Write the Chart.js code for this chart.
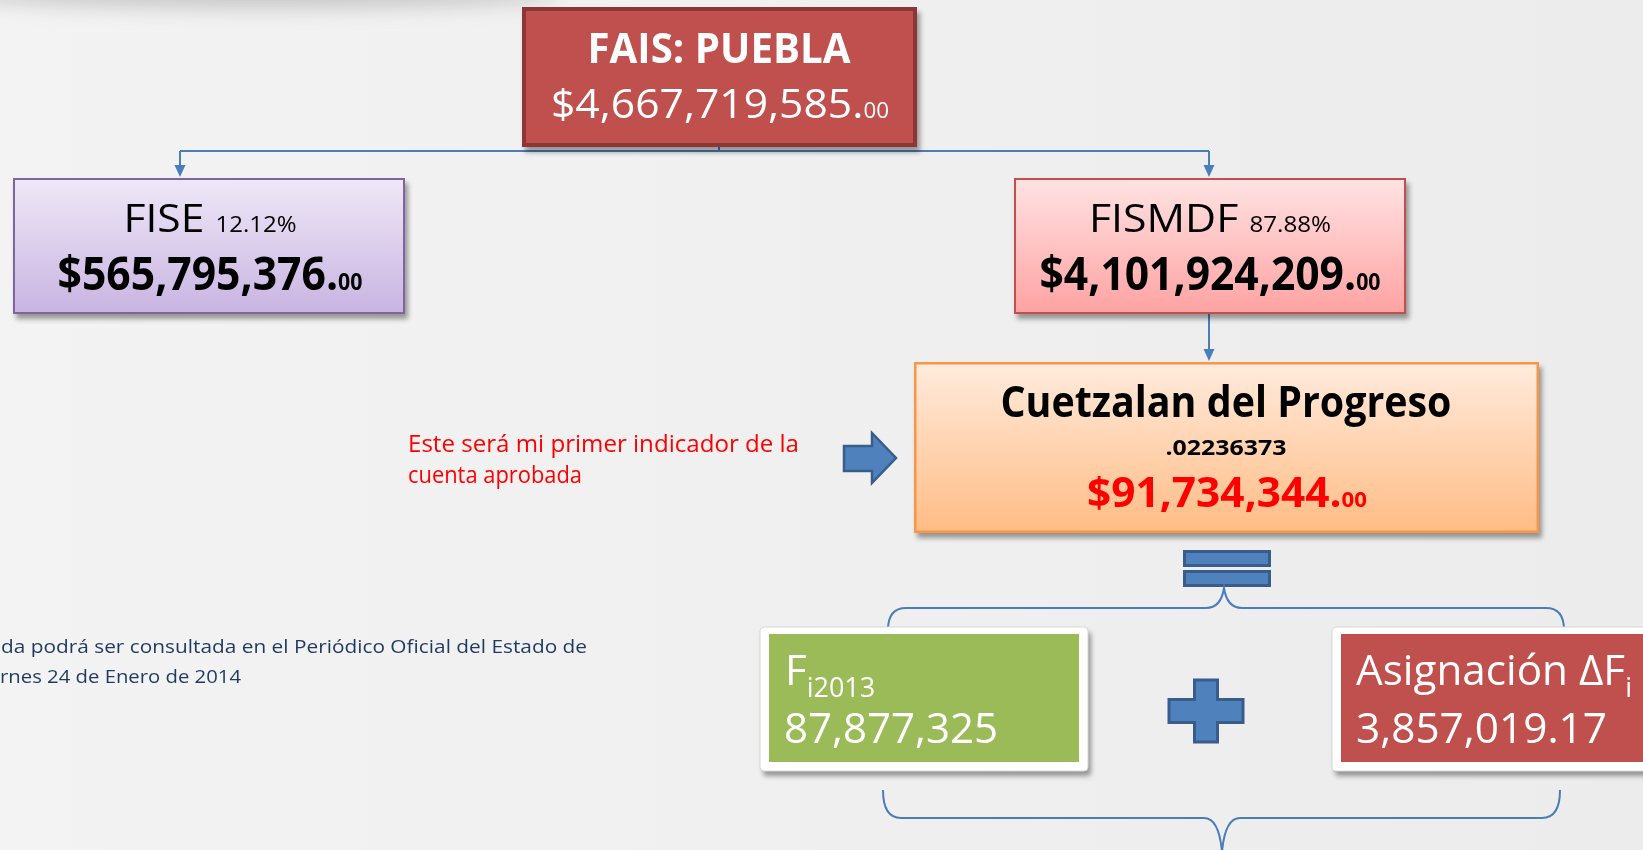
<!DOCTYPE html>
<html>
<head>
<meta charset="utf-8">
<script src="https://cdn.jsdelivr.net/npm/chart.js@4.4.1/dist/chart.umd.min.js"></script>
<style>
  html, body { margin: 0; padding: 0; background: #f1f1f1; overflow: hidden; }
  #wrap { width: 1643px; height: 850px; position: relative; }
</style>
</head>
<body>
<div id="wrap"><canvas id="diagram"></canvas></div>
<script>
// values
const nodeNames = ['FAIS: PUEBLA', 'FISE', 'FISMDF', 'Cuetzalan del Progreso', 'F', 'Asignación ΔF'];
const nodeSubs = ['', '', '', '', 'i2013', 'i'];
const nodeAmounts = [4667719585, 565795376, 4101924209, 91734344, 87877325, 3857019.17];
const sharePct = [null, 12.12, 87.88];
const municipalCoef = 0.02236373;
const noteLines = ['Este será mi primer indicador de la', 'cuenta aprobada'];
const footLines = ['da podrá ser consultada en el Periódico Oficial del Estado de', 'rnes 24 de Enero de 2014'];

// layout (in scale units, which map 1:1 to the 1643x850 page)
const W = 1643, H = 850;
const layout = {
  fais:   { x0: 522, y0: 7,   x1: 917,  y1: 147 },
  fise:   { x0: 13,  y0: 178, x1: 405,  y1: 314 },
  fismdf: { x0: 1014, y0: 178, x1: 1406, y1: 314 },
  cuetz:  { x0: 914, y0: 362, x1: 1539, y1: 533 },
  green:  { x0: 760, y0: 627, x1: 1088, y1: 771 },
  red:    { x0: 1332, y0: 627, x1: 1680, y1: 771 }
};
const FONT = '"Open Sans", "Noto Sans", sans-serif';
const LINE = '#4a7ebb';

function money(v) {
  const whole = Math.floor(v);
  const cents = Math.round((v - whole) * 100);
  return ['$' + whole.toLocaleString('en-US') + '.', String(cents).padStart(2, '0')];
}

function drawRuns(ctx, runs, x, y, align, width, color) {
  let total = 0;
  runs.forEach(r => {
    ctx.font = (r.bold ? 'bold ' : '') + r.size + 'px ' + FONT;
    r.w = ctx.measureText(r.t).width;
    total += r.w;
  });
  const sx = width ? width / total : 1;
  const shown = total * sx;
  const start = align === 'center' ? x - shown / 2 : x;
  ctx.save();
  ctx.translate(start, y);
  ctx.scale(sx, 1);
  ctx.fillStyle = color;
  ctx.textAlign = 'left';
  ctx.textBaseline = 'alphabetic';
  let cx = 0;
  runs.forEach(r => {
    ctx.font = (r.bold ? 'bold ' : '') + r.size + 'px ' + FONT;
    ctx.fillText(r.t, cx, r.dy || 0);
    cx += r.w;
  });
  ctx.restore();
}

const diagramPlugin = {
  id: 'diagram',
  beforeDraw(chart) {
    const ctx = chart.ctx;
    const bg = ctx.createLinearGradient(0, 0, W, 0);
    bg.addColorStop(0, '#f3f3f3');
    bg.addColorStop(1, '#ececec');
    ctx.save();
    ctx.fillStyle = bg;
    ctx.fillRect(0, 0, W, H);
    // soft grey smudge top-left
    ctx.filter = 'blur(10px)';
    ctx.fillStyle = 'rgba(120,120,120,0.35)';
    ctx.beginPath();
    ctx.ellipse(260, -6, 300, 14, 0, 0, Math.PI * 2);
    ctx.fill();
    ctx.restore();
  },
  afterDraw(chart) {
    const ctx = chart.ctx;
    const sx = v => chart.scales.x.getPixelForValue(v);
    const sy = v => chart.scales.y.getPixelForValue(v);
    const rect = r => ({ x: sx(r.x0), y: sy(r.y0), w: sx(r.x1) - sx(r.x0), h: sy(r.y1) - sy(r.y0) });

    function shadowOn() {
      ctx.shadowColor = 'rgba(0,0,0,0.38)';
      ctx.shadowBlur = 5;
      ctx.shadowOffsetX = 3;
      ctx.shadowOffsetY = 5;
    }
    function shadowOff() {
      ctx.shadowColor = 'transparent';
      ctx.shadowBlur = 0; ctx.shadowOffsetX = 0; ctx.shadowOffsetY = 0;
    }
    function gradBox(r, top, bottom, stroke, lw) {
      const b = rect(r);
      const g = ctx.createLinearGradient(0, b.y, 0, b.y + b.h);
      g.addColorStop(0, top);
      g.addColorStop(1, bottom);
      ctx.save();
      shadowOn();
      ctx.fillStyle = g;
      ctx.fillRect(b.x, b.y, b.w, b.h);
      shadowOff();
      ctx.strokeStyle = stroke;
      ctx.lineWidth = lw;
      ctx.strokeRect(b.x + lw / 2, b.y + lw / 2, b.w - lw, b.h - lw);
      ctx.restore();
      return b;
    }
    function framedBox(r, fill) {
      const b = rect(r);
      ctx.save();
      shadowOn();
      ctx.fillStyle = '#ffffff';
      ctx.beginPath();
      ctx.roundRect(b.x, b.y, b.w, b.h, 4);
      ctx.fill();
      shadowOff();
      ctx.strokeStyle = '#d8d8d8';
      ctx.lineWidth = 1;
      ctx.stroke();
      ctx.fillStyle = fill;
      ctx.fillRect(b.x + 9, b.y + 7, b.w - 18, b.h - 16);
      ctx.restore();
      return b;
    }
    function arrowDown(x, yA, yB) {
      ctx.save();
      ctx.strokeStyle = LINE;
      ctx.fillStyle = LINE;
      ctx.lineWidth = 2;
      ctx.beginPath();
      ctx.moveTo(sx(x), sy(yA));
      ctx.lineTo(sx(x), sy(yB) - 10);
      ctx.stroke();
      ctx.beginPath();
      ctx.moveTo(sx(x) - 5.5, sy(yB) - 12);
      ctx.lineTo(sx(x) + 5.5, sy(yB) - 12);
      ctx.lineTo(sx(x), sy(yB));
      ctx.closePath();
      ctx.fill();
      ctx.restore();
    }
    function brace(x0, x1, xc, yEnd, yH, yTip) {
      const r = 18;
      const d = yH < yEnd ? -1 : 1;
      ctx.save();
      ctx.strokeStyle = LINE;
      ctx.lineWidth = 2;
      ctx.beginPath();
      ctx.moveTo(sx(x0), sy(yEnd));
      ctx.quadraticCurveTo(sx(x0), sy(yH), sx(x0 + r), sy(yH));
      ctx.lineTo(sx(xc - r), sy(yH));
      ctx.quadraticCurveTo(sx(xc - 3), sy(yH), sx(xc), sy(yTip));
      ctx.quadraticCurveTo(sx(xc + 3), sy(yH), sx(xc + r), sy(yH));
      ctx.lineTo(sx(x1 - r), sy(yH));
      ctx.quadraticCurveTo(sx(x1), sy(yH), sx(x1), sy(yEnd));
      ctx.stroke();
      ctx.restore();
    }

    // connectors
    ctx.save();
    ctx.strokeStyle = LINE;
    ctx.lineWidth = 2;
    ctx.beginPath();
    ctx.moveTo(sx(180), sy(151));
    ctx.lineTo(sx(1209), sy(151));
    ctx.moveTo(sx(719), sy(145));
    ctx.lineTo(sx(719), sy(151));
    ctx.stroke();
    ctx.restore();
    arrowDown(180, 151, 177);
    arrowDown(1209, 151, 177);
    arrowDown(1209, 314, 361);

    // FAIS
    let b = rect(layout.fais);
    ctx.save();
    shadowOn();
    ctx.fillStyle = '#c0504d';
    ctx.fillRect(b.x, b.y, b.w, b.h);
    shadowOff();
    ctx.strokeStyle = '#8c3735';
    ctx.lineWidth = 4;
    ctx.strokeRect(b.x + 2, b.y + 2, b.w - 4, b.h - 4);
    ctx.restore();
    drawRuns(ctx, [{ t: nodeNames[0], size: 42, bold: true }], sx(719), sy(63), 'center', 263, '#ffffff');
    let m = money(nodeAmounts[0]);
    drawRuns(ctx, [{ t: m[0], size: 40 }, { t: m[1], size: 21 }], sx(720), sy(118), 'center', 338, '#ffffff');

    // FISE
    gradBox(layout.fise, '#efe8f7', '#c8b4e2', '#8064a2', 2);
    drawRuns(ctx, [{ t: nodeNames[1] + ' ', size: 39 }, { t: sharePct[1].toFixed(2) + '%', size: 22 }], sx(210), sy(232), 'center', 173, '#000000');
    m = money(nodeAmounts[1]);
    drawRuns(ctx, [{ t: m[0], size: 46, bold: true }, { t: m[1], size: 23, bold: true }], sx(210), sy(290), 'center', 305, '#000000');

    // FISMDF
    gradBox(layout.fismdf, '#ffe3e3', '#ffa2a2', '#c0504d', 2);
    drawRuns(ctx, [{ t: nodeNames[2] + ' ', size: 39 }, { t: sharePct[2].toFixed(2) + '%', size: 22 }], sx(1210), sy(232), 'center', 242, '#000000');
    m = money(nodeAmounts[2]);
    drawRuns(ctx, [{ t: m[0], size: 46, bold: true }, { t: m[1], size: 23, bold: true }], sx(1210), sy(290), 'center', 341, '#000000');

    // Cuetzalan
    gradBox(layout.cuetz, '#ffebdd', '#ffbc84', '#f79646', 2.5);
    drawRuns(ctx, [{ t: nodeNames[3], size: 43, bold: true }], sx(1226), sy(417), 'center', 451, '#000000');
    drawRuns(ctx, [{ t: '.' + municipalCoef.toFixed(8).split('.')[1], size: 21, bold: true }], sx(1226), sy(455), 'center', 121, '#000000');
    m = money(nodeAmounts[3]);
    drawRuns(ctx, [{ t: m[0], size: 42, bold: true }, { t: m[1], size: 22, bold: true }], sx(1227), sy(507), 'center', 280, '#ff0000');

    // block arrow pointing at Cuetzalan
    ctx.save();
    ctx.fillStyle = '#4f81bd';
    ctx.strokeStyle = '#385d8a';
    ctx.lineWidth = 2.5;
    ctx.beginPath();
    [[844, 446], [872, 446], [872, 433], [896, 458], [872, 483], [872, 471], [844, 471]].forEach((p, i) => {
      if (i === 0) ctx.moveTo(sx(p[0]), sy(p[1])); else ctx.lineTo(sx(p[0]), sy(p[1]));
    });
    ctx.closePath();
    ctx.fill();
    ctx.stroke();
    ctx.restore();

    // red note
    drawRuns(ctx, [{ t: noteLines[0], size: 23 }], sx(408), sy(452), 'left', 391, '#ff0000');
    drawRuns(ctx, [{ t: noteLines[1], size: 23 }], sx(408), sy(483), 'left', 174, '#ff0000');

    // foot note
    drawRuns(ctx, [{ t: footLines[0], size: 19 }], sx(1), sy(653), 'left', 586, '#1f3a5f');
    drawRuns(ctx, [{ t: footLines[1], size: 19 }], sx(0), sy(683), 'left', 241, '#1f3a5f');

    // equals sign
    ctx.save();
    ctx.fillStyle = '#4f81bd';
    ctx.strokeStyle = '#385d8a';
    ctx.lineWidth = 3;
    [[550], [570]].forEach(([y]) => {
      ctx.fillRect(sx(1183), sy(y), sx(1271) - sx(1183), sy(y + 17) - sy(y));
      ctx.strokeRect(sx(1183) + 1.5, sy(y) + 1.5, sx(1271) - sx(1183) - 3, sy(y + 17) - sy(y) - 3);
    });
    ctx.restore();

    // braces
    brace(888, 1564, 1224, 630, 608, 588);
    brace(883, 1560, 1222, 790, 818, 852);

    // green box
    framedBox(layout.green, '#9bbb59');
    drawRuns(ctx, [{ t: nodeNames[4], size: 42 }, { t: nodeSubs[4], size: 27, dy: 12 }], sx(785), sy(685), 'left', 0, '#ffffff');
    drawRuns(ctx, [{ t: nodeAmounts[4].toLocaleString('en-US'), size: 42 }], sx(784), sy(743), 'left', 214, '#ffffff');

    // plus sign
    ctx.save();
    ctx.fillStyle = '#4f81bd';
    ctx.strokeStyle = '#385d8a';
    ctx.lineWidth = 3;
    const cx = 1206, cy = 711, hw = 37, hh = 31, t = 11.5;
    const pts = [[cx - t, cy - hh], [cx + t, cy - hh], [cx + t, cy - t], [cx + hw, cy - t], [cx + hw, cy + t], [cx + t, cy + t],
      [cx + t, cy + hh], [cx - t, cy + hh], [cx - t, cy + t], [cx - hw, cy + t], [cx - hw, cy - t], [cx - t, cy - t]];
    ctx.beginPath();
    pts.forEach((p, i) => { if (i === 0) ctx.moveTo(sx(p[0]), sy(p[1])); else ctx.lineTo(sx(p[0]), sy(p[1])); });
    ctx.closePath();
    ctx.fill();
    ctx.stroke();
    ctx.restore();

    // red box
    framedBox(layout.red, '#c0504d');
    drawRuns(ctx, [{ t: nodeNames[5], size: 42 }, { t: nodeSubs[5], size: 27, dy: 12 }], sx(1356), sy(685), 'left', 276, '#ffffff');
    drawRuns(ctx, [{ t: nodeAmounts[5].toLocaleString('en-US', { minimumFractionDigits: 2 }), size: 42 }], sx(1356), sy(743), 'left', 251, '#ffffff');
  }
};

new Chart(document.getElementById('diagram'), {
  type: 'scatter',
  data: { datasets: [{ data: [], pointRadius: 0 }] },
  options: {
    responsive: true,
    maintainAspectRatio: false,
    animation: false,
    devicePixelRatio: 1,
    layout: { padding: 0 },
    plugins: { legend: { display: false }, tooltip: { enabled: false } },
    scales: {
      x: { type: 'linear', min: 0, max: W, display: false },
      y: { type: 'linear', min: 0, max: H, reverse: true, display: false }
    }
  },
  plugins: [diagramPlugin]
});
</script>
</body>
</html>
